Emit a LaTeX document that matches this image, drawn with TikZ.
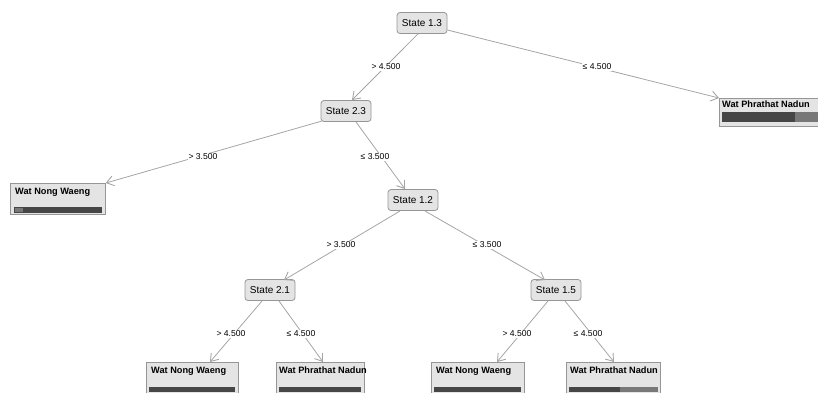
\documentclass[tikz,border=0pt]{standalone}
\usepackage{fontspec}
\setmainfont{Liberation Sans}
\usetikzlibrary{arrows.meta}
\definecolor{boxfill}{RGB}{228,228,228}
\definecolor{boxline}{RGB}{150,150,150}
\definecolor{edgecol}{RGB}{165,165,165}
\definecolor{bardark}{RGB}{70,70,70}
\definecolor{barlight}{RGB}{120,120,120}
\begin{document}
\begin{tikzpicture}[x=1pt,y=-1pt,
  statebox/.style={draw=boxline,fill=boxfill,rounded corners=3pt,line width=0.8pt,
    minimum height=21pt,minimum width=50pt,inner xsep=3pt,font=\fontsize{10}{12}\selectfont},
  leafbox/.style={draw=boxline,fill=boxfill,line width=0.8pt,anchor=north west,
    minimum height=31pt},
  leaftext/.style={anchor=north west,inner sep=0pt,font=\fontsize{9.2}{11}\selectfont\bfseries},
  cond/.style={fill=white,inner sep=1pt,font=\fontsize{8.6}{10}\selectfont},
  arr/.style={draw=edgecol,line width=0.8pt,-{Straight Barb[length=7pt,width=10pt,line width=0.9pt]}}
]
\useasboundingbox (0,0) rectangle (818,392);
% state nodes
\node[statebox] (s13) at (422,23) {State 1.3};
\node[statebox] (s23) at (346,111) {State 2.3};
\node[statebox] (s12) at (413,200) {State 1.2};
\node[statebox] (s21) at (270,290) {State 2.1};
\node[statebox] (s15) at (556,290) {State 1.5};
% leaves
\node[leafbox,minimum width=110pt,minimum height=28pt] (lr) at (719,98) {};
\node[leaftext] (lrt) at (722,101) {Wat Phrathat Nadun};
\fill[bardark] (722,112) rectangle (795,122);
\fill[barlight] (795,112) rectangle (818,122);

\node[leafbox,minimum width=95pt] (ll) at (10,183) {};
\node[leaftext] (llt) at (15,188) {Wat Nong Waeng};
\fill[bardark] (14,207) rectangle (102,213);
\fill[barlight] (15,208) rectangle (23,212);

\node[leafbox,minimum width=92pt] (b1) at (146,362) {};
\node[leaftext] (b1t) at (151,367) {Wat Nong Waeng};
\fill[bardark] (149,387) rectangle (235,392);

\node[leafbox,minimum width=88pt] (b2) at (276,362) {};
\node[leaftext] (b2t) at (279,367) {Wat Phrathat Nadun};
\fill[bardark] (279,387) rectangle (361,392);

\node[leafbox,minimum width=93pt] (b3) at (431,362) {};
\node[leaftext] (b3t) at (436,367) {Wat Nong Waeng};
\fill[bardark] (434,387) rectangle (521,392);

\node[leafbox,minimum width=94pt] (b4) at (566,362) {};
\node[leaftext] (b4t) at (570,367) {Wat Phrathat Nadun};
\fill[bardark] (569,387) rectangle (620,392);
\fill[barlight] (620,387) rectangle (658,392);

% edges
\draw[arr] (s13.south -| 418,0) -- (352,100);
\draw[arr] (s13.east) ++(0,7) -- (lr.north west);
\draw[arr] (322,121) -- (ll.north east);
\draw[arr] (356,122) -- (405,189);
\draw[arr] (400,211) -- (284,280);
\draw[arr] (425,211) -- (545,280);
\draw[arr] (262,301) -- (210,362);
\draw[arr] (279,301) -- (323,362);
\draw[arr] (548,301) -- (497,362);
\draw[arr] (565,301) -- (614,362);
% condition labels
\node[cond] (c1) at (386,67) {> 4.500};
\node[cond] (c2) at (597,67) {≤ 4.500};
\node[cond] (c3) at (203,157) {> 3.500};
\node[cond] (c4) at (375,157) {≤ 3.500};
\node[cond] (c5) at (341,245) {> 3.500};
\node[cond] (c6) at (487,245) {≤ 3.500};
\node[cond] (c7) at (231,334) {> 4.500};
\node[cond] (c8) at (301,334) {≤ 4.500};
\node[cond] (c9) at (517,334) {> 4.500};
\node[cond] (c10) at (588,334) {≤ 4.500};
\end{tikzpicture}
\end{document}
